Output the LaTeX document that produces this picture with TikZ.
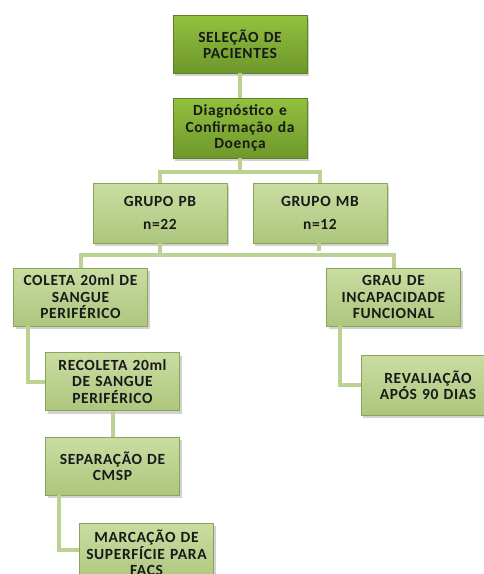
\documentclass[tikz,border=0pt]{standalone}
\usepackage{fontspec}
\setmainfont{Carlito}
\usepackage{tikz}
\usetikzlibrary{positioning,shadows}
\definecolor{verdeforte}{HTML}{92C13E}
\definecolor{verdefortebaixo}{HTML}{6E972B}
\definecolor{verdeclaro}{HTML}{CADDA2}
\definecolor{verdeclarobaixo}{HTML}{ADC67D}
\definecolor{verdeborda}{HTML}{88A55A}
\definecolor{verdelinha}{HTML}{BCD293}
\tikzstyle{etapa} = [rectangle, minimum width=134pt, minimum height=58pt, text width=133pt, align=center, inner sep=0.5pt, top color=verdeclaro, bottom color=verdeclarobaixo, draw=verdeborda, line width=0.6pt, drop shadow={shadow xshift=2pt, shadow yshift=-3pt, opacity=0.35}, font=\bfseries\fontsize{15.5}{16.5}\selectfont\addfontfeature{LetterSpace=4}, text=black!90]
\tikzstyle{etapaforte} = [etapa, top color=verdeforte, bottom color=verdefortebaixo, draw=verdefortebaixo!85!black]
\tikzstyle{ligacao} = [draw=verdelinha, line width=4pt]

\begin{document}
\begin{tikzpicture}[x=1pt, y=-1pt]
  \clip (0,0) rectangle (484,574);
  \fill[white] (0,0) rectangle (484,574);

  % caixas
  \node (selecao) [etapaforte, minimum height=58pt] at (240,44) {SELEÇÃO DE\\PACIENTES};
  \node (diag) [etapaforte, minimum height=60pt] at (240,128) {Diagnóstico e\\Confirmação da\\Doença};
  \node (pb) [etapa, minimum height=60pt] at (160,213) {GRUPO PB\\[7pt]n=22};
  \node (mb) [etapa, minimum height=60pt] at (320,213) {GRUPO MB\\[7pt]n=12};
  \node (coleta) [etapa] at (80.5,297) {COLETA 20ml DE\\SANGUE\\PERIFÉRICO};
  \node (grau) [etapa] at (393.5,297) {GRAU DE\\INCAPACIDADE\\FUNCIONAL};
  \node (recoleta) [etapa] at (112.5,381.5) {RECOLETA 20ml\\DE SANGUE\\PERIFÉRICO};
  \node (revaliacao) [etapa, minimum height=60pt] at (428,385) {REVALIAÇÃO\\APÓS 90 DIAS};
  \node (separacao) [etapa] at (112.5,466) {SEPARAÇÃO DE\\CMSP};
  \node (marcacao) [etapa, minimum height=60pt] at (146.5,553) {MARCAÇÃO DE\\SUPERFÍCIE PARA\\FACS};

  % pontos de juncao
  \coordinate (jtopo) at (240,172);
  \coordinate (jmeio) at (160,255);
  \coordinate (mbfim) at (319,251);

  % ligacoes
  \draw[ligacao] (selecao) -- (diag);
  \draw[ligacao] (diag.south) -- (jtopo) -| (pb.north);
  \draw[ligacao] (jtopo) -| (mb.north);
  \draw[ligacao] (pb.south) -- (jmeio) -| (coleta.north);
  \draw[ligacao] (jmeio) -| (grau.north);
  \draw[ligacao] ([xshift=-1pt]mb.south) -- (mbfim);
  \draw[ligacao] ([xshift=15pt]coleta.south west) |- (recoleta.west);
  \draw[ligacao] ([xshift=14pt]grau.south west) |- (revaliacao.west);
  \draw[ligacao] (recoleta) -- (separacao);
  \draw[ligacao] ([xshift=14pt]separacao.south west) |- ([yshift=3pt]marcacao.west);
\end{tikzpicture}
\end{document}
